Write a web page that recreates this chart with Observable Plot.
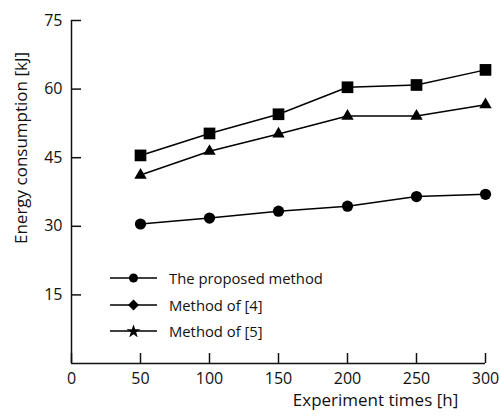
<!DOCTYPE html>
<html>
<head>
<meta charset="utf-8">
<script src="https://cdn.jsdelivr.net/npm/d3@7"></script>
<script src="https://cdn.jsdelivr.net/npm/@observablehq/plot@0.6"></script>
<style>
  html, body { margin: 0; padding: 0; background: #fff; }
  #wrap { position: relative; width: 499px; height: 416px; font-family: "Open Sans", sans-serif; }
  #legend { position: absolute; left: 110px; top: 265px; font-size: 14.8px; color: #111; }
  .row { display: flex; align-items: center; height: 26.5px; }
  .row svg { display: block; }
  .row span { margin-left: 12px; }
</style>
</head>
<body>
<div id="wrap"></div>
<script>
const times = [50, 100, 150, 200, 250, 300];
const proposed = [30.5, 31.8, 33.3, 34.4, 36.5, 37.0];
const method4 = [45.5, 50.3, 54.5, 60.4, 60.9, 64.2];
const method5 = [41.2, 46.4, 50.2, 54.1, 54.1, 56.6];
const seriesNames = ["The proposed method", "Method of [4]", "Method of [5]"];
const xTicks = [0, 50, 100, 150, 200, 250, 300];
const yTicks = [15, 30, 45, 60, 75];
const xTitle = "Experiment times [h]";
const yTitle = "Energy consumption [kJ]";

const rows = [];
[proposed, method4, method5].forEach((vals, i) => {
  vals.forEach((v, j) => rows.push({series: seriesNames[i], t: times[j], e: v}));
});
const symbolsMap = {"The proposed method": "circle", "Method of [4]": "square", "Method of [5]": "triangle"};
const rMap = {"The proposed method": 5.6, "Method of [4]": 6.6, "Method of [5]": 4.6};

const chart = Plot.plot({
  width: 499,
  height: 416,
  marginLeft: 71,
  marginRight: 14,
  marginTop: 20,
  marginBottom: 53,
  style: {fontFamily: "Open Sans, sans-serif", fontSize: "16px", color: "#111", background: "#fff"},
  x: {domain: [0, 300]},
  y: {domain: [0, 75]},
  marks: [
    Plot.axisX({ticks: xTicks, tickSize: -10, tickPadding: 19, label: null, tickFormat: d => d, strokeWidth: 1.5}),
    Plot.axisY({ticks: yTicks, tickSize: -10, tickPadding: 19, label: null, tickFormat: d => d, strokeWidth: 1.5}),
    Plot.ruleY([0], {strokeWidth: 1.5}),
    Plot.ruleX([0], {strokeWidth: 1.5}),
    Plot.line(rows, {x: "t", y: "e", z: "series", stroke: "#000", strokeWidth: 1.5}),
    ...seriesNames.map(s => Plot.dot(rows.filter(d => d.series === s), {x: "t", y: "e", symbol: symbolsMap[s], r: rMap[s], fill: "#000", stroke: "none"})),
    Plot.text([yTitle], {frameAnchor: "left", dx: -50, dy: -44, rotate: -90, textAnchor: "middle", fontSize: 17, fill: "#111"}),
    Plot.text([xTitle], {frameAnchor: "bottom", dx: 97, dy: 42, textAnchor: "middle", fontSize: 17, fill: "#111"})
  ]
});
const wrap = document.getElementById("wrap");
wrap.appendChild(chart);

const legendShapes = [
  '<circle cx="23.5" cy="6" r="4.5" fill="#000"/>',
  '<path d="M23.5 0.5 L29 6 L23.5 11.5 L18 6 Z" fill="#000"/>',
  '<path d="' + d3.symbol(d3.symbolStar, 60)() + '" transform="translate(23.5,6.5)" fill="#000"/>'
];
const legend = document.createElement("div");
legend.id = "legend";
seriesNames.forEach((name, i) => {
  const row = document.createElement("div");
  row.className = "row";
  row.innerHTML = '<svg width="47" height="12"><line x1="0" x2="47" y1="6" y2="6" stroke="#000" stroke-width="1.5"/>' + legendShapes[i] + '</svg><span>' + name + '</span>';
  legend.appendChild(row);
});
wrap.appendChild(legend);
</script>
</body>
</html>
